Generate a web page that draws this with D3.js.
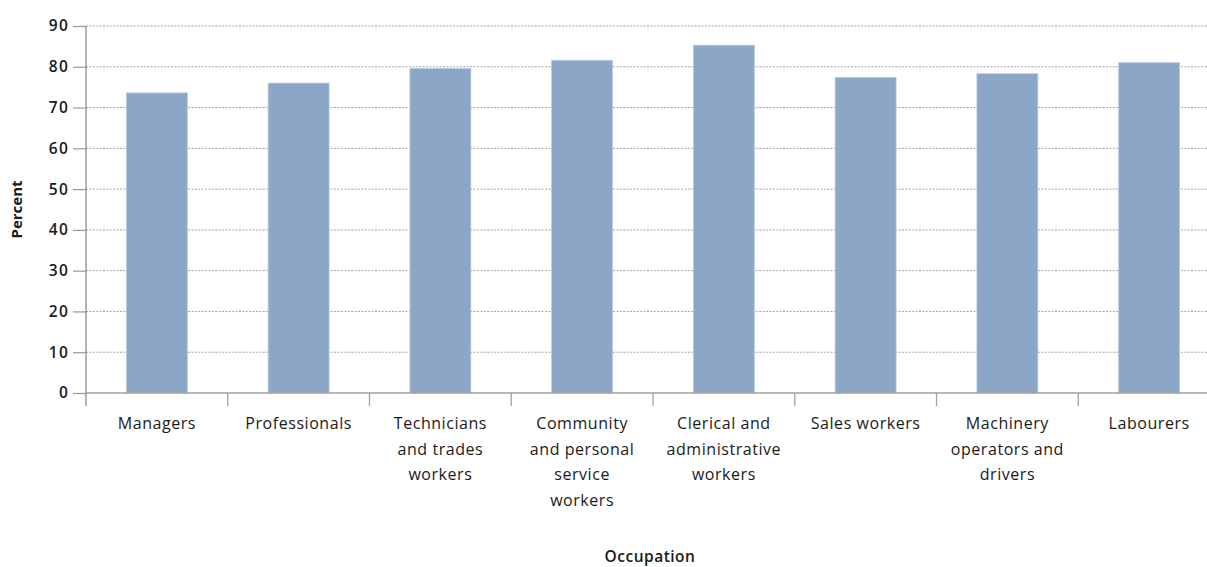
<!DOCTYPE html>
<html>
<head>
<meta charset="utf-8">
<script src="https://cdn.jsdelivr.net/npm/d3@7/dist/d3.min.js"></script>
<style>
  html, body { margin: 0; padding: 0; background: #fff; }
  svg { display: block; }
  text { font-family: "Open Sans", "DejaVu Sans", sans-serif; fill: #1a1a1a; }
</style>
</head>
<body>
<svg id="chart" width="1207" height="567"></svg>
<script>
// Occupation categories (line breaks mark how each label wraps)
const categories = [
  "Managers",
  "Professionals",
  "Technicians\nand trades\nworkers",
  "Community\nand personal\nservice\nworkers",
  "Clerical and\nadministrative\nworkers",
  "Sales workers",
  "Machinery\noperators and\ndrivers",
  "Labourers"
];
// Percent of workers in each occupation
const percentValues = [73.6, 76.0, 79.6, 81.6, 85.3, 77.4, 78.3, 81.0];
const yTicks = [0, 10, 20, 30, 40, 50, 60, 70, 80, 90];
const xTitle = "Occupation";
const yTitle = "Percent";

const svg = d3.select("#chart");
const plotLeft = 86, plotRight = 1220, plotTop = 26, plotBottom = 393;

const x = d3.scaleBand()
  .domain(categories)
  .range([plotLeft, plotRight])
  .paddingInner(0.57)
  .paddingOuter(0.285);

const y = d3.scaleLinear().domain([0, 90]).range([plotBottom, plotTop]);

// Dotted horizontal gridlines
svg.append("g")
  .selectAll("line")
  .data(yTicks.filter(d => d > 0))
  .join("line")
  .attr("x1", plotLeft).attr("x2", 1207)
  .attr("y1", d => y(d)).attr("y2", d => y(d))
  .attr("stroke", "#a3a3a3")
  .attr("stroke-width", 1)
  .attr("stroke-dasharray", "2,1.4");

// Bars
svg.append("g")
  .selectAll("rect")
  .data(categories.map((c, i) => ({ c, v: percentValues[i] })))
  .join("rect")
  .attr("x", d => x(d.c))
  .attr("width", x.bandwidth())
  .attr("y", d => y(d.v))
  .attr("height", d => y(0) - y(d.v))
  .attr("fill", "#8ba6c7")
  .attr("stroke", "#b9cbe0")
  .attr("stroke-width", 0.8);

// Y axis: left line, outward ticks, labels
const yAxis = d3.axisLeft(y).tickValues(yTicks).tickSize(13).tickPadding(4);
const gy = svg.append("g").attr("transform", `translate(${plotLeft},0)`).call(yAxis);
gy.select(".domain").remove();
gy.selectAll(".tick line").attr("stroke", "#999").attr("stroke-width", 1.2);
gy.selectAll(".tick text")
  .style("font-size", "15.5px")
  .style("font-weight", "600")
  .style("letter-spacing", "1.2px")
  .attr("fill", "#1a1a1a");

svg.append("line")
  .attr("x1", plotLeft).attr("x2", plotLeft)
  .attr("y1", plotTop).attr("y2", plotBottom + 13)
  .attr("stroke", "#8c8c8c").attr("stroke-width", 1.3);

// X axis baseline
svg.append("line")
  .attr("x1", plotLeft).attr("x2", 1207)
  .attr("y1", plotBottom).attr("y2", plotBottom)
  .attr("stroke", "#a0a0a0").attr("stroke-width", 1.3);

// Category boundary ticks
const step = x.step();
svg.append("g")
  .selectAll("line")
  .data(categories.slice(1))
  .join("line")
  .attr("x1", d => x(d) - (step - x.bandwidth()) / 2)
  .attr("x2", d => x(d) - (step - x.bandwidth()) / 2)
  .attr("y1", plotBottom).attr("y2", plotBottom + 13)
  .attr("stroke", "#a0a0a0").attr("stroke-width", 1.3);

// Wrapped category labels
const labels = svg.append("g")
  .selectAll("text")
  .data(categories)
  .join("text")
  .attr("text-anchor", "middle")
  .style("font-size", "16px")
  .style("font-weight", "500")
  .style("letter-spacing", "0.55px")
  .attr("transform", d => `translate(${x(d) + x.bandwidth() / 2},429)`);
labels.selectAll("tspan")
  .data(d => d.split("\n"))
  .join("tspan")
  .attr("x", 0)
  .attr("y", (d, i) => i * 25.5)
  .text(d => d);

// Axis titles
svg.append("text")
  .attr("x", 650).attr("y", 562)
  .attr("text-anchor", "middle")
  .style("font-size", "15.5px")
  .style("font-weight", "600")
  .style("letter-spacing", "0.5px")
  .text(xTitle);

svg.append("text")
  .attr("transform", `translate(22,${(plotTop + plotBottom) / 2}) rotate(-90)`)
  .attr("text-anchor", "middle")
  .style("font-size", "15px")
  .style("font-weight", "700")
  .text(yTitle);
</script>
</body>
</html>
